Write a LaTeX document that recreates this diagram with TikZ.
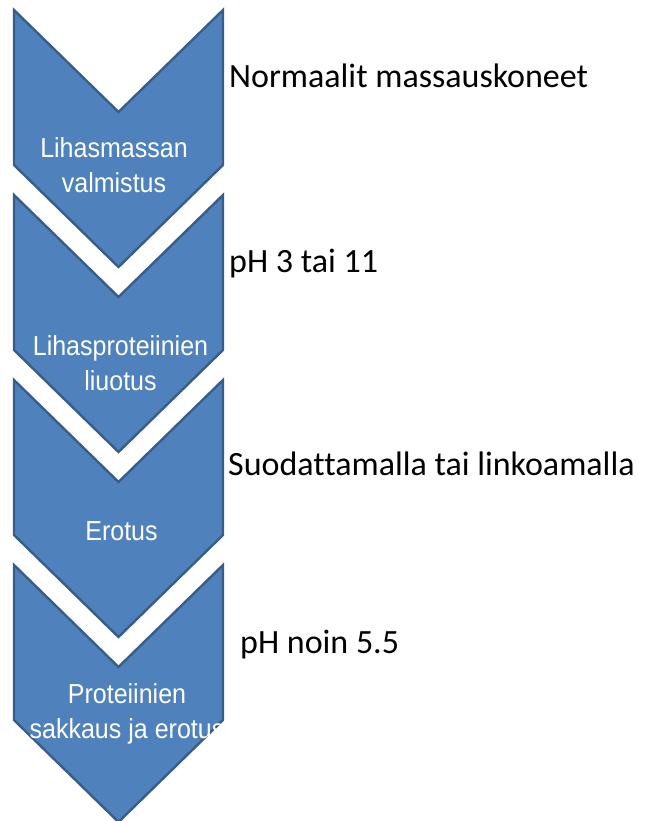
\documentclass[tikz,border=0pt]{standalone}
\usepackage{fontspec}
\setmainfont{Carlito}[Ligatures=CommonOff]
\newfontfamily\arialish{Liberation Sans}[FakeStretch=0.91]
\definecolor{chevfill}{HTML}{4F81BD}
\definecolor{chevline}{HTML}{385D8A}
\begin{document}
\begin{tikzpicture}[x=1pt,y=-1pt,
  chevron/.style={fill=chevfill,draw=chevline,line width=2.4pt,line join=miter},
  steptext/.style={text=white,inner sep=0pt,anchor=base,font=\arialish\fontsize{27.5}{32}\selectfont},
  notetext/.style={text=black,inner sep=0pt,anchor=base west,font=\fontsize{34}{40}\selectfont}]
\useasboundingbox (0,0) rectangle (648,821);
\foreach \t in {10,195,380,565}{
  \draw[chevron] (14,\t) -- (118.5,\t+102) -- (223,\t) -- (223,\t+155)
     -- (118.5,\t+257) -- (14,\t+155) -- cycle;
}
\node[steptext] (s1a) at (114,158) {Lihasmassan};
\node[steptext] (s1b) at (114,193) {valmistus};
\node[steptext] (s2a) at (120.5,355) {Lihasproteiinien};
\node[steptext] (s2b) at (120.5,390) {liuotus};
\node[steptext] (s3a) at (121.5,540) {Erotus};
\node[steptext] (s4a) at (127,703) {Proteiinien};
\node[steptext] (s4b) at (127,738) {sakkaus ja erotus};
\node[notetext] (n1) at (229,88) {Normaalit massauskoneet};
\node[notetext] (n2) at (229,272) {pH 3 tai 11};
\node[notetext] (n3) at (228,475) {Suodattamalla tai linkoamalla};
\node[notetext] (n4) at (240,653) {pH noin 5.5};
\end{tikzpicture}
\end{document}
